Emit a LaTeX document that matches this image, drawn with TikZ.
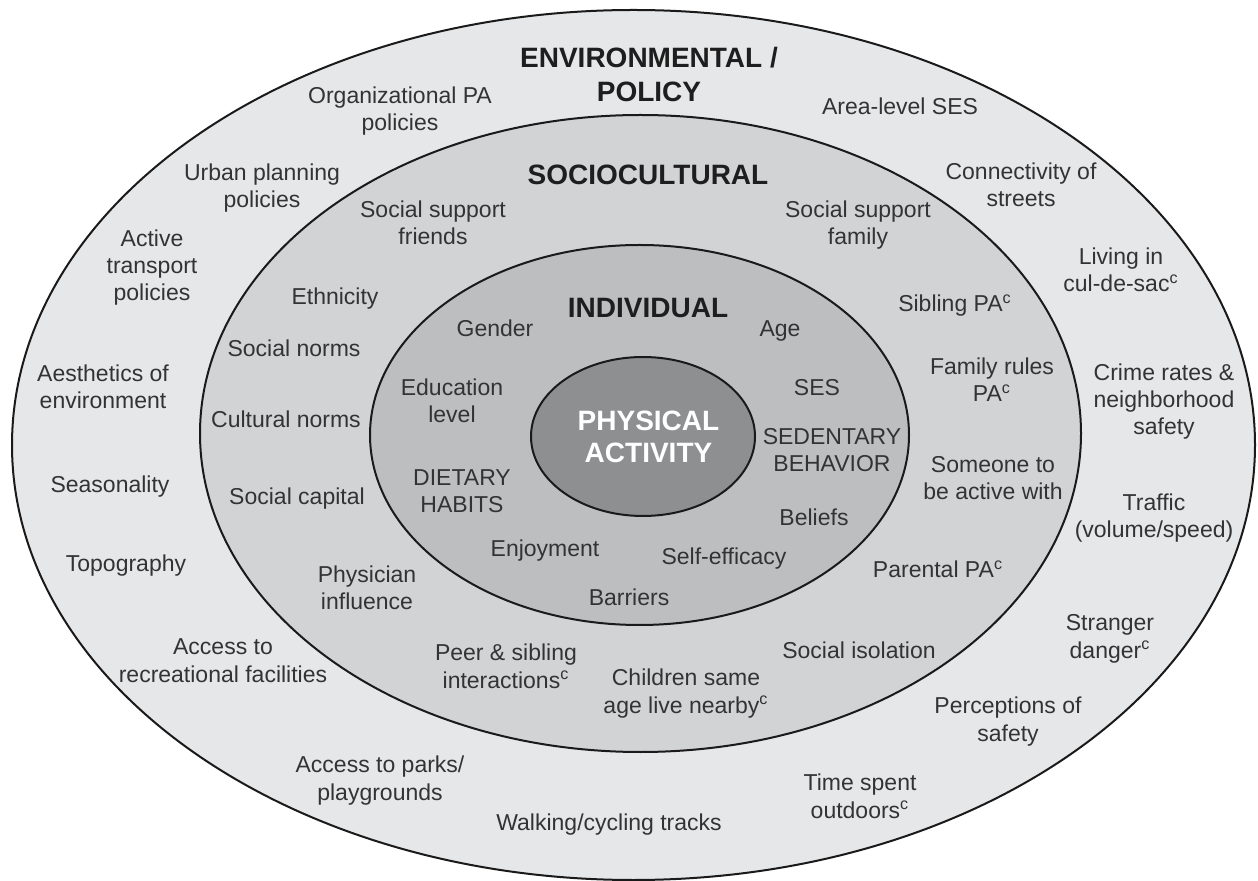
\documentclass[tikz,border=0pt]{standalone}
\usepackage{fontspec}
\setmainfont{Liberation Sans}
\definecolor{ringA}{HTML}{E6E7E8}
\definecolor{ringB}{HTML}{D2D3D5}
\definecolor{ringC}{HTML}{BDBEC0}
\definecolor{ringD}{HTML}{8E8F91}
\definecolor{edge}{HTML}{1A1A1A}
\definecolor{txt}{HTML}{333333}
\definecolor{hdrc}{HTML}{1E1E1E}
\newcommand\supc{\textsuperscript{c}}
\begin{document}
\begin{tikzpicture}[x=0.5pt,y=-0.5pt,
  lbl/.style={anchor=base, align=center, inner sep=0pt, text=txt,
    font=\fontsize{11.5}{13.6}\selectfont},
  hdr/.style={anchor=base, align=center, inner sep=0pt, text=hdrc,
    font=\fontsize{14}{17}\selectfont\bfseries},
  ring/.style={draw=edge, line width=1pt}]
\useasboundingbox (0,0) rectangle (1258,881);
% rings
\filldraw[ring, fill=ringA] (633.5,445) ellipse [x radius=310.75pt, y radius=217.5pt];
\filldraw[ring, fill=ringB] (640.5,433.5) ellipse [x radius=220.25pt, y radius=159.25pt];
\filldraw[ring, fill=ringC] (639.5,435) ellipse [x radius=134.75pt, y radius=95pt];
\filldraw[ring, fill=ringD] (643,436.5) ellipse [x radius=56pt, y radius=39.75pt];
% environmental / policy  (anchor = baseline of last line)
\node[hdr] (env) at (649,102) {ENVIRONMENTAL /\\POLICY};
\node[lbl] (org) at (400,131) {Organizational PA\\policies};
\node[lbl] (area) at (900,115) {Area-level SES};
\node[lbl] (urban) at (262,208) {Urban planning\\policies};
\node[lbl] (conn) at (1021,207) {Connectivity of\\streets};
\node[lbl] (active) at (152,301) {Active\\transport\\policies};
\node[lbl] (living) at (1121,292) {Living in\\cul-de-sac\supc};
\node[lbl] (aest) at (103,409) {Aesthetics of\\environment};
\node[lbl] (crime) at (1164,435) {Crime rates \&\\neighborhood\\safety};
\node[lbl] (season) at (110,493) {Seasonality};
\node[lbl] (traffic) at (1154,538) {Traffic\\(volume/speed)};
\node[lbl] (topo) at (126,572) {Topography};
\node[lbl] (accrec) at (223,682) {Access to\\recreational facilities};
\node[lbl] (stranger) at (1110,658) {Stranger\\danger\supc};
\node[lbl] (percep) at (1008,741) {Perceptions of\\safety};
\node[lbl] (parks) at (380,800) {Access to parks/\\playgrounds};
\node[lbl] (time) at (860,818) {Time spent\\outdoors\supc};
\node[lbl] (walk) at (609,830) {Walking/cycling tracks};
% sociocultural
\node[hdr] (soc) at (648,185) {SOCIOCULTURAL};
\node[lbl] (ssf) at (433,245) {Social support\\friends};
\node[lbl] (ssfam) at (858,245) {Social support\\family};
\node[lbl] (eth) at (335,305) {Ethnicity};
\node[lbl] (sib) at (955,312) {Sibling PA\supc};
\node[lbl] (snorm) at (294,357) {Social norms};
\node[lbl] (frules) at (992,402) {Family rules\\PA\supc};
\node[lbl] (cnorm) at (286,428) {Cultural norms};
\node[lbl] (someone) at (993,500) {Someone to\\be active with};
\node[lbl] (scap) at (297,505) {Social capital};
\node[lbl] (phys) at (367,610) {Physician\\influence};
\node[lbl] (parpa) at (938,578) {Parental PA\supc};
\node[lbl] (peer) at (506,688) {Peer \& sibling\\interactions\supc};
\node[lbl] (iso) at (859,658) {Social isolation};
\node[lbl] (child) at (686,713) {Children same\\age live nearby\supc};
% individual
\node[hdr] (ind) at (648,318) {INDIVIDUAL};
\node[lbl] (gender) at (495,337) {Gender};
\node[lbl] (age) at (780,337) {Age};
\node[lbl] (edu) at (452,423) {Education\\level};
\node[lbl] (ses) at (817,396) {SES};
\node[lbl] (sed) at (832,472) {SEDENTARY\\BEHAVIOR};
\node[lbl] (diet) at (462,513) {DIETARY\\HABITS};
\node[lbl] (bel) at (814,526) {Beliefs};
\node[lbl] (enj) at (545,557) {Enjoyment};
\node[lbl] (self) at (724,565) {Self-efficacy};
\node[lbl] (bar) at (629,605) {Barriers};
% centre
\node[hdr, text=white, font=\fontsize{14}{16}\selectfont\bfseries] (pa) at (648.5,463) {PHYSICAL\\ACTIVITY};
\end{tikzpicture}
\end{document}
